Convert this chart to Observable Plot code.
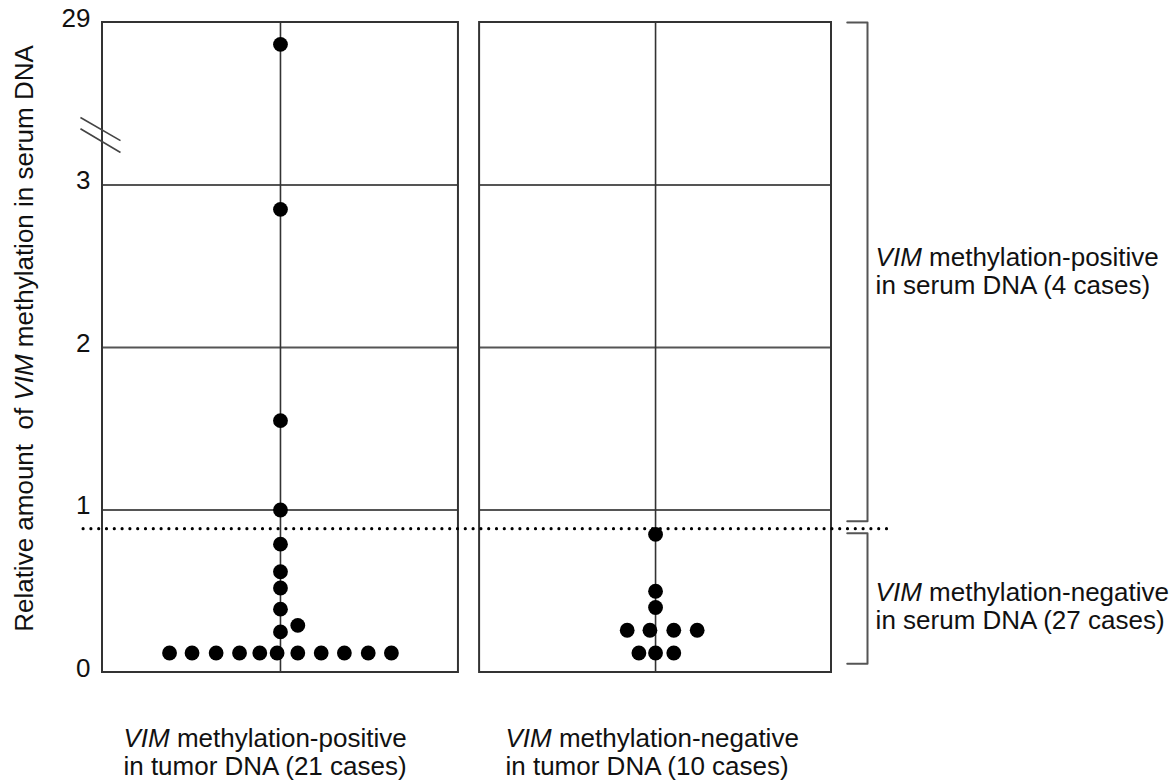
<!DOCTYPE html>
<html><head><meta charset="utf-8">
<script src="https://cdn.jsdelivr.net/npm/d3@7"></script>
<script src="https://cdn.jsdelivr.net/npm/@observablehq/plot@0.6"></script>
<style>body{margin:0;background:#fff}</style>
</head><body><div id="chart"></div>
<script>
// ---------------- data ----------------
const tumorGroups = ["positive", "negative"];
const tumorLabels = ["VIM methylation-positive\nin tumor DNA (21 cases)", "VIM methylation-negative\nin tumor DNA (10 cases)"];
const serumLabels = ["VIM methylation-positive\nin serum DNA (4 cases)", "VIM methylation-negative\nin serum DNA (27 cases)"];
const yTitle = "Relative amount  of VIM methylation in serum DNA";
// relative amount of VIM methylation, tumor-positive group (21 cases)
const positiveValues = [25.5, 2.85, 1.55, 1.0, 0.79, 0.62, 0.52, 0.39, 0.25, 0.29,
  0.12, 0.12, 0.12, 0.12, 0.12, 0.12, 0.12, 0.12, 0.12, 0.12, 0.12];
// swarm column of each case (0 = centre line)
const positiveSlots = [0, 0, 0, 0, 0, 0, 0, 0, 0, 0.77,
  -4.93, -3.93, -2.86, -1.82, -0.92, -0.15, 0.77, 1.81, 2.84, 3.9, 4.93];
// tumor-negative group (10 cases)
const negativeValues = [0.85, 0.5, 0.4, 0.26, 0.26, 0.26, 0.26, 0.12, 0.12, 0.12];
const negativeSlots = [0, 0, 0, -1.26, -0.25, 0.81, 1.85, -0.74, 0, 0.81];
const yTicks = [0, 1, 2, 3, 29];
const gridValues = [1, 2, 3];
const cutoff = 0.885;

// ---------------- layout ----------------
const FONT = "'Liberation Sans', Arial, Helvetica, sans-serif";
// broken axis: 0–3 linear, 3–29 compressed into one unit
const BREAK = 3, TOP = 29;
const u = v => v <= BREAK ? v : BREAK + (v - BREAK) / (TOP - BREAK);
const center = {positive: 0, negative: 16.67};
const half = {positive: 7.91, negative: 7.82};

const panels = tumorGroups.map((g, i) => ({group: g, c: center[g], x1: center[g] - half[g], x2: center[g] + half[g]}));
const dots = [
  ...positiveValues.map((v, i) => ({group: "positive", value: v, slot: positiveSlots[i]})),
  ...negativeValues.map((v, i) => ({group: "negative", value: v, slot: negativeSlots[i]}))
];
const grid = panels.flatMap(p => gridValues.map(v => ({x1: p.x1, x2: p.x2, y: v})));
const leftEdge = panels[0].x1;
const rightEdge = panels[1].x2;

// axis-break marks (two parallel strokes across the y axis, in the compressed 3–29 segment)
const breakMarks = [
  {x1: leftEdge - 0.98, y1: 13.8, x2: leftEdge + 0.8, y2: 10.1},
  {x1: leftEdge - 0.98, y1: 12.0, x2: leftEdge + 0.8, y2: 8.2}
];
// brackets for the serum groups
const bx = rightEdge + 1.6, bs = rightEdge + 0.7;
const brackets = [
  {k: "pos", pts: [[bs, TOP], [bx, TOP], [bx, cutoff + 0.046], [bs, cutoff + 0.046]]},
  {k: "neg", pts: [[bs, cutoff - 0.028], [bx, cutoff - 0.028], [bx, 0.054], [bs, 0.054]]}
].flatMap(b => b.pts.map(([x, y]) => ({k: b.k, x, y})));
const serumText = [
  {text: serumLabels[0], y: 2.47},
  {text: serumLabels[1], y: 0.408}
];
const tumorText = [
  {text: tumorLabels[0], x: -6.98},
  {text: tumorLabels[1], x: 10.0}
];

const chart = Plot.plot({
  width: 1176,
  height: 783,
  marginTop: 22, marginBottom: 111, marginLeft: 102, marginRight: 345,
  style: {fontFamily: FONT, fontSize: "26px", background: "white", color: "black"},
  x: {domain: [leftEdge, rightEdge], axis: null},
  y: {domain: [0, u(TOP)], axis: null},
  marks: [
    Plot.ruleY(grid, {x1: "x1", x2: "x2", y: d => u(d.y), stroke: "#555", strokeWidth: 1.8}),
    Plot.ruleX(panels, {x: "c", y1: 0, y2: u(TOP), stroke: "#333", strokeWidth: 1.6}),
    Plot.rect(panels, {x1: "x1", x2: "x2", y1: 0, y2: u(TOP), fill: "none", stroke: "#333", strokeWidth: 2}),
    Plot.ruleY([cutoff], {x1: leftEdge - 0.84, x2: rightEdge + 2.68, y: d => u(d), stroke: "black", strokeWidth: 3.2, strokeDasharray: "0 7.8", strokeLinecap: "round"}),
    Plot.link(breakMarks, {x1: "x1", y1: d => u(d.y1), x2: "x2", y2: d => u(d.y2), stroke: "#444", strokeWidth: 1.6}),
    Plot.line(brackets, {x: "x", y: d => u(d.y), z: "k", stroke: "#555", strokeWidth: 2, curve: "linear"}),
    Plot.dot(dots, {x: d => center[d.group] + d.slot, y: d => u(d.value), r: 7.4, fill: "black", stroke: "none"}),
    Plot.text(yTicks, {x: leftEdge, y: d => u(d), text: d => String(d), textAnchor: "end", dx: -12, dy: -4, fontSize: 26, fill: "#111"}),
    Plot.text(serumText, {x: rightEdge + 1.96, y: "y", text: "text", textAnchor: "start", lineHeight: 1.08, fontSize: 26, fill: "#111"}),
    Plot.text(tumorText, {x: "x", y: -0.49, text: "text", textAnchor: "start", lineHeight: 1.06, fontSize: 26, fill: "#111"}),
    Plot.text([yTitle], {frameAnchor: "left", text: d => d, rotate: -90, textAnchor: "middle", dx: -78, dy: -9, fontSize: 26, fill: "#111"})
  ]
});

// italicise the gene symbol "VIM" in every text
function italicize(svg) {
  const walker = document.createTreeWalker(svg, NodeFilter.SHOW_TEXT);
  const nodes = [];
  while (walker.nextNode()) if (walker.currentNode.nodeValue.includes("VIM")) nodes.push(walker.currentNode);
  for (const node of nodes) {
    const parts = node.nodeValue.split("VIM");
    const frag = document.createDocumentFragment();
    parts.forEach((p, i) => {
      if (i > 0) {
        const t = document.createElementNS("http://www.w3.org/2000/svg", "tspan");
        t.setAttribute("font-style", "italic");
        t.textContent = "VIM";
        frag.appendChild(t);
      }
      if (p) frag.appendChild(document.createTextNode(p));
    });
    node.parentNode.replaceChild(frag, node);
  }
}
italicize(chart);
document.getElementById("chart").appendChild(chart);
</script>
</body></html>
